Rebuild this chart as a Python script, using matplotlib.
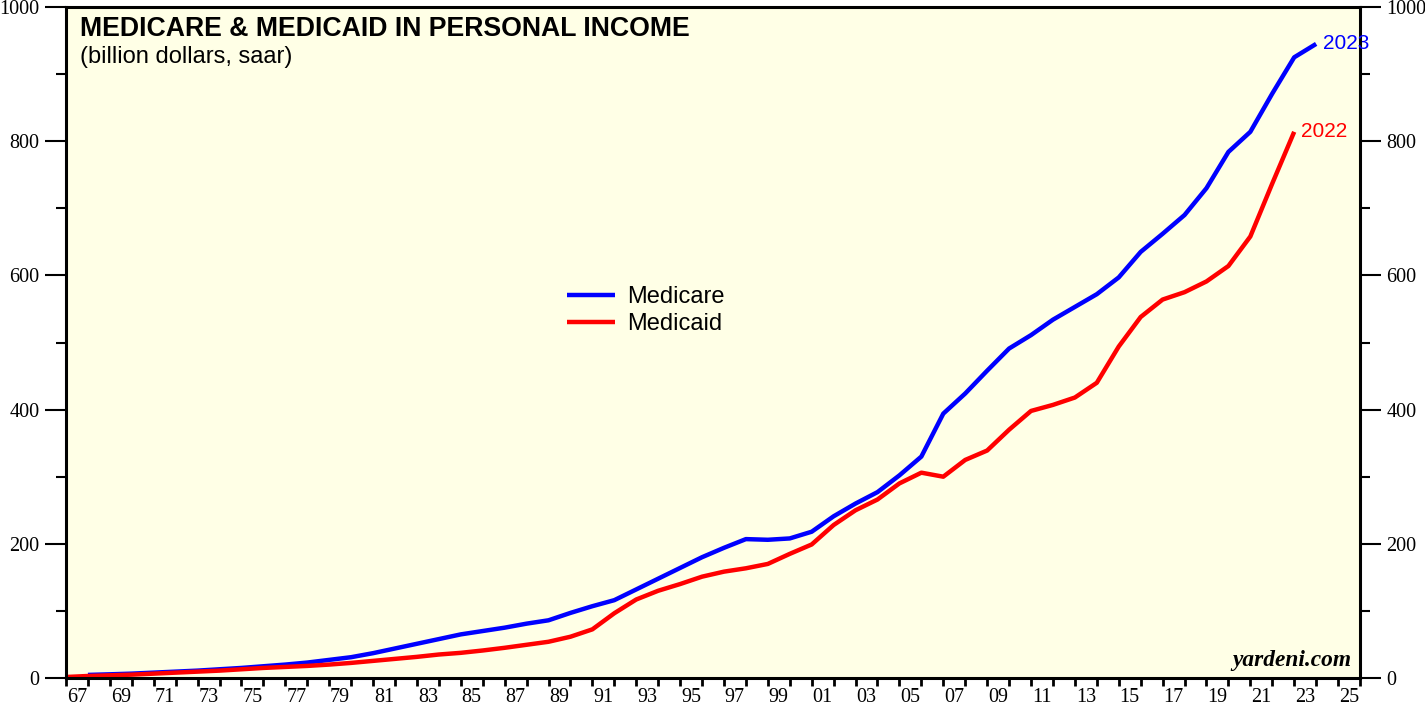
import matplotlib
matplotlib.use("Agg")
import matplotlib.pyplot as plt
import numpy as np

# annual data, billion dollars (saar)
medicare_years = list(range(1967, 2024))
medicare = [4.6, 5.5, 6.5, 8.0, 9.5, 11.0, 13.0, 15.0, 17.5, 20.0,
            23.0, 27.0, 31.0, 37.0, 44.0, 51.0, 58.0, 65.0, 70.0, 75.0,
            81.0, 86.0, 97.0, 107.0, 116.0, 132.0, 148.0, 164.0, 180.0, 194.0,
            207.0, 206.0, 208.0, 218.0, 241.0, 260.0, 277.0, 302.0, 330.0, 394.0,
            424.0, 458.0, 491.0, 511.0, 534.0, 553.0, 572.0, 597.0, 635.0, 662.0,
            690.0, 730.0, 784.0, 814.0, 871.0, 925.0, 945.0]

medicaid_years = list(range(1966, 2023))
medicaid = [1.5, 3.0, 4.0, 5.0, 6.5, 8.0, 9.5, 11.0, 13.0, 15.0,
            16.5, 18.0, 20.0, 22.5, 25.5, 28.5, 31.5, 35.0, 37.5, 41.0,
            45.0, 49.5, 54.0, 61.5, 72.5, 96.5, 117.0, 130.0, 140.0, 151.0,
            158.5, 163.5, 170.0, 185.0, 199.0, 228.0, 250.0, 266.0, 290.0, 306.0,
            300.0, 325.0, 339.0, 370.0, 398.0, 407.0, 418.0, 440.0, 494.0, 538.0,
            564.0, 575.0, 591.0, 614.0, 658.0, 737.0, 814.0]

label_years = list(range(1967, 2026, 2))

sans = ["Liberation Sans", "DejaVu Sans"]
serif = ["Liberation Serif", "DejaVu Serif"]

fig = plt.figure(figsize=(14.25, 7.12), dpi=100)
ax = fig.add_axes([66 / 1425, 1 - 678 / 712, (1360 - 66) / 1425, (678 - 7) / 712])
ax.set_facecolor("#FFFFE6")

# values plotted at year end
x_mc = np.array(medicare_years) + 1
x_md = np.array(medicaid_years) + 1
ax.plot(x_mc, medicare, color="#0000FF", lw=3.2, label="Medicare", solid_capstyle="butt")
ax.plot(x_md, medicaid, color="#FF0000", lw=3.2, label="Medicaid", solid_capstyle="butt")

ax.set_xlim(1967, 2026)
ax.set_ylim(0, 1000)

for s in ax.spines.values():
    s.set_linewidth(2.2)

# x axis: tick at each year, labels centred on odd years
ax.set_xticks(np.arange(1967, 2027))
ax.set_xticklabels([])
ax.set_xticks(np.array(label_years) + 0.5, minor=True)
ax.set_xticklabels(["%02d" % (y % 100) for y in label_years], minor=True)
ax.tick_params(axis="x", which="major", direction="out", length=6, width=2)
ax.tick_params(axis="x", which="minor", length=0, pad=7, labelsize=14.5)

# y axis on both sides
ax.set_yticks(np.arange(0, 1001, 200))
ax.set_yticks(np.arange(0, 1001, 100), minor=True)
ax.tick_params(axis="y", which="major", direction="out", length=15, width=1.5,
               left=True, right=True, labelleft=True, labelright=True, labelsize=14.5, pad=4)
ax.tick_params(axis="y", which="minor", direction="out", length=7, width=1.5,
               left=True, right=True)

for lab in ax.get_xticklabels(minor=True) + ax.get_yticklabels():
    lab.set_family(serif)

ax.text(0.011, 0.986, "MEDICARE & MEDICAID IN PERSONAL INCOME", transform=ax.transAxes,
        fontsize=19.2, fontweight="bold", family=sans, va="top", ha="left")
ax.text(0.011, 0.942, "(billion dollars, saar)", transform=ax.transAxes,
        fontsize=17, family=sans, va="top", ha="left")

ax.text(medicare_years[-1] + 1.3, medicare[-1], str(medicare_years[-1]), color="#0000FF",
        fontsize=15, family=sans, va="center", ha="left")
ax.text(medicaid_years[-1] + 1.3, medicaid[-1], str(medicaid_years[-1]), color="#FF0000",
        fontsize=15, family=sans, va="center", ha="left")

ax.text(0.993, 0.010, "yardeni.com", transform=ax.transAxes, fontsize=16.8,
        fontweight="bold", style="italic", family=serif, ha="right", va="bottom")

leg = ax.legend(loc="upper left", bbox_to_anchor=(0.371, 0.616), frameon=False,
                handlelength=2.0, handletextpad=0.55, labelspacing=0.23,
                prop={"family": sans, "size": 17})

fig.savefig("out.png", dpi=100)
